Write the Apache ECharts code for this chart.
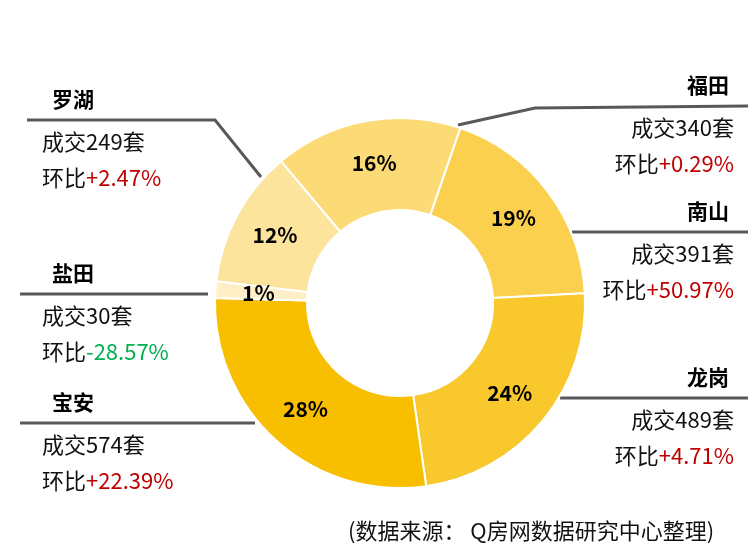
<!DOCTYPE html>
<html><head><meta charset="utf-8">
<script src="https://cdn.jsdelivr.net/npm/echarts@6/dist/echarts.min.js"></script>
<style>html,body{margin:0;padding:0;background:#fff}#c{width:750px;height:554px}</style>
</head><body><div id="c"></div>
<script>
const districts = ['福田', '南山', '龙岗', '宝安', '盐田', '罗湖'];
const deals = [340, 391, 489, 574, 30, 249];
const changes = ['+0.29%', '+50.97%', '+4.71%', '+22.39%', '-28.57%', '+2.47%'];
const sliceColors = ['#FCDA76', '#FBD04E', '#F9C82C', '#F8BF00', '#FEEFC6', '#FDE49D'];
const sourceNote = '(数据来源： Q房网数据研究中心整理)';

// label guide lines (annotation layout only)
const guides = [
  { side: 'right', pts: [[458, 125], [535, 108], [748, 106]] },
  { side: 'right', pts: [[572, 232], [600, 232], [748, 232]] },
  { side: 'right', pts: [[560, 398], [600, 398], [748, 398]] },
  { side: 'left',  pts: [[255, 423], [230, 423], [20, 423]] },
  { side: 'left',  pts: [[208, 294], [150, 294], [20, 294]] },
  { side: 'left',  pts: [[261, 177], [215, 120], [27, 120]] }
];

const FONT = '"Noto Sans CJK SC", "Noto Sans", sans-serif';
const pieData = districts.map((d, i) => ({
  name: d, value: deals[i], change: changes[i],
  itemStyle: { color: sliceColors[i] }
}));
const ghostData = districts.map((d, i) => ({
  name: d, value: deals[i], change: changes[i]
}));

const chart = echarts.init(document.getElementById('c'), null, { renderer: 'canvas' });
chart.setOption({
  animation: false,
  backgroundColor: '#fff',
  graphic: [{
    type: 'text', left: 348, top: 520,
    style: { text: sourceNote, fontSize: 22, fill: '#111', fontFamily: FONT }
  }],
  series: [
    {
      type: 'pie',
      center: [400, 303],
      radius: [93, 185],
      startAngle: 130,
      clockwise: true,
      itemStyle: { borderColor: '#fff', borderWidth: 2 },
      label: {
        show: true, position: 'inside',
        formatter: p => Math.round(p.percent) + '%',
        fontSize: 21, fontWeight: 'bold', color: '#000', fontFamily: FONT
      },
      labelLine: { show: false },
      emphasis: { disabled: true },
      data: pieData
    },
    {
      type: 'pie',
      silent: true,
      center: [400, 303],
      radius: [93, 185],
      startAngle: 130,
      clockwise: true,
      itemStyle: { color: 'rgba(0,0,0,0)' },
      emphasis: { disabled: true },
      label: {
        show: true, position: 'outside',
        fontFamily: FONT,
        formatter: p => {
          const side = guides[p.dataIndex].side;
          const n = side === 'left' ? 'nl' : 'nr';
          const c = p.data.change;
          const cs = c.charAt(0) === '-' ? 'dn' : 'up';
          return '{' + n + '|' + p.name + '}\n{t|成交' + p.value + '套}\n{t|环比}{' + cs + '|' + c + '}';
        },
        rich: {
          nl: { fontSize: 21, fontWeight: 'bold', color: '#000', lineHeight: 50, padding: [0, 0, 0, 10], fontFamily: FONT },
          nr: { fontSize: 21, fontWeight: 'bold', color: '#000', lineHeight: 50, padding: [0, 5, 0, 0], fontFamily: FONT },
          t: { fontSize: 22, color: '#111', lineHeight: 36, fontFamily: FONT },
          up: { fontSize: 22, color: '#C00000', lineHeight: 36, fontFamily: FONT },
          dn: { fontSize: 22, color: '#00B050', lineHeight: 36, fontFamily: FONT }
        }
      },
      labelLine: { show: true, lineStyle: { color: '#595959', width: 3 } },
      labelLayout: params => {
        const g = guides[params.dataIndex];
        const lineY = g.pts[2][1];
        return {
          x: g.side === 'left' ? 42 : 734,
          y: lineY - 46,
          align: g.side,
          verticalAlign: 'top',
          labelLinePoints: g.pts
        };
      },
      data: ghostData
    }
  ]
});
</script>
</body></html>
